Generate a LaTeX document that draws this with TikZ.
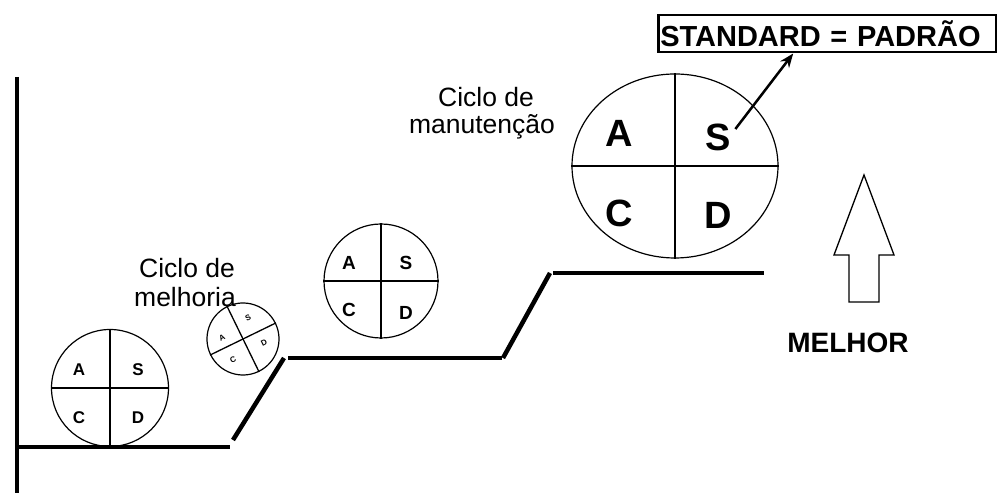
\documentclass[tikz,border=0pt]{standalone}
\usepackage{fontspec}
\setmainfont{Liberation Sans}
\usetikzlibrary{shapes.geometric,arrows.meta,calc}
\begin{document}
\begin{tikzpicture}[x=1pt,y=1pt,
  cyc/.style={circle,draw,line width=1.2pt,inner sep=0pt},
  divider/.style={line width=1.8pt},
  stepline/.style={line width=4.5pt},
  lbl/.style={inner sep=0pt,anchor=base,font=\fontsize{26.5}{27}\selectfont},
  lets/.style={inner sep=0.5pt,font=\fontsize{17}{17}\selectfont\bfseries},
  letm/.style={inner sep=0.5pt,font=\fontsize{19}{19}\selectfont\bfseries},
  letb/.style={inner sep=0.5pt,font=\fontsize{38}{38}\selectfont\bfseries},
  lett/.style={inner sep=0pt,font=\fontsize{8}{8}\selectfont\bfseries,rotate=26}]
\useasboundingbox (0,0) rectangle (997,494);
% axis and steps
\draw[line width=3.5pt] (17,417) -- (17,1);
\draw[stepline] (17,47) -- (230,47);
\draw[stepline] (233,54) -- (284,136);
\draw[stepline] (288,136) -- (502,136);
\draw[stepline] (503,136) -- (550,221);
\draw[stepline] (553,221) -- (764,221);
% circle 1
\node[cyc,minimum size=117pt] (c1) at (110,106) {};
\draw[divider] (c1.north) -- (c1.south);
\draw[divider] (c1.west) -- (c1.east);
\node[lets] (a1) at (79,124) {A};
\node[lets] (s1) at (138,124) {S};
\node[lets] (k1) at (79,76) {C};
\node[lets] (d1) at (138,76) {D};
% circle 2 (tilted)
\node[cyc,minimum size=72pt,rotate=26] (c2) at (243,155) {};
\draw[line width=1.3pt] (c2.north) -- (c2.south);
\draw[line width=1.3pt] (c2.west) -- (c2.east);
\node[lett] (a2) at (222,156) {A};
\node[lett] (s2) at (248,176) {S};
\node[lett] (d2) at (264,151) {D};
\node[lett] (k2) at (233,134) {C};
% circle 3
\node[cyc,minimum size=114pt] (c3) at (381,213) {};
\draw[divider] (c3.north) -- (c3.south);
\draw[divider] (c3.west) -- (c3.east);
\node[letm] (a3) at (349,231) {A};
\node[letm] (s3) at (406,231) {S};
\node[letm] (k3) at (349,184) {C};
\node[letm] (d3) at (406,181) {D};
% circle 4 (big)
\node[ellipse,draw,line width=1.2pt,inner sep=0pt,minimum width=206pt,minimum height=184pt] (c4) at (675,328) {};
\draw[divider] (c4.north) -- (c4.south);
\draw[divider] (c4.west) -- (c4.east);
\node[letb] (a4) at (619,361) {A};
\node[letb] (s4) at (718,357) {S};
\node[letb] (k4) at (619,281) {C};
\node[letb] (d4) at (718,279) {D};
% standard box
\node[draw,line width=2.5pt,anchor=north west,minimum width=338pt,minimum height=37pt,
  text width=334pt,align=left,inner sep=0pt,
  font=\fontsize{29}{29}\selectfont\bfseries] (std) at (657,480) {STANDARD = PADRÃO};
\coordinate (stdtip) at ($(std.south west)!0.4!(std.south east)$);
\draw[line width=2.5pt,-{Stealth[length=14pt,width=11pt]}] ($(s4.east)+(4,8)$) -- (stdtip);
% labels
\node[lbl] (lm1) at (187,216) {Ciclo de};
\node[lbl] (lm2) at (185,187) {melhoria};
\node[lbl] (ln1) at (486,387) {Ciclo de};
\node[lbl] (ln2) at (482,360) {manutenção};
\node[inner sep=0pt,anchor=base,font=\fontsize{28}{28}\selectfont\bfseries] (mel) at (848,141) {MELHOR};
% hollow up arrow
\draw[line width=1.3pt,line join=miter] (864,319) -- (894,239) -- (879,239) -- (879,192) -- (849,192) -- (849,239) -- (834,239) -- cycle;
\end{tikzpicture}
\end{document}
